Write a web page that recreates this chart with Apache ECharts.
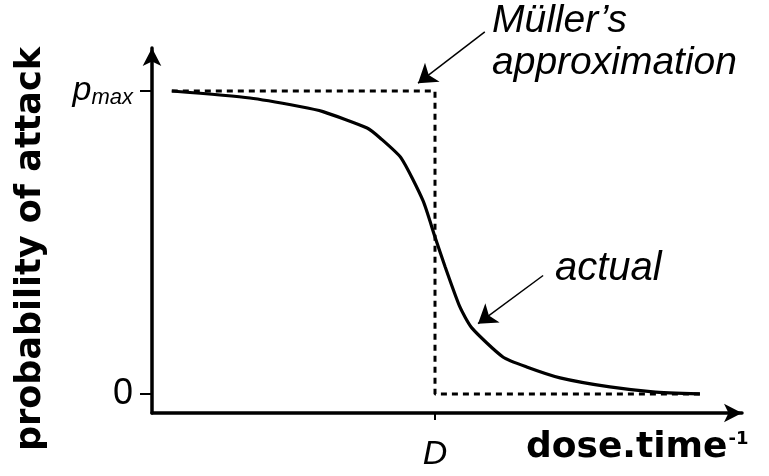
<!DOCTYPE html>
<html>
<head>
<meta charset="utf-8">
<script src="https://cdn.jsdelivr.net/npm/echarts@6/dist/echarts.min.js"></script>
<style>
  html, body { margin: 0; padding: 0; background: #fff; }
  #chart { width: 769px; height: 476px; }
</style>
</head>
<body>
<div id="chart"></div>
<script>
// Actual probability-of-attack curve (dose.time^-1 in arbitrary units, D = 5)
const actualX = [0.35, 1.73, 2.61, 3.02, 3.80, 4.03, 4.40, 4.79, 5.00, 5.18, 5.44, 5.65, 6.20, 6.62, 7.21, 8.09, 8.85, 9.68];
const actualY = [1.0, 0.977, 0.949, 0.932, 0.878, 0.845, 0.779, 0.637, 0.518, 0.419, 0.287, 0.218, 0.122, 0.089, 0.053, 0.023, 0.007, 0.0];

// Müller's step approximation
const mullerX = [0.35, 5, 5, 9.68];
const mullerY = [1, 1, 0, 0];

// Axis ticks
const yTickValues = [0, 1];
const yTickLabels = ['0', '{p|p}{s|max}'];
const xTickValues = [5];
const xTickLabels = ['D'];

// Annotation arrows [from, to]
const mullerArrow = [[5.88, 1.195], [4.70, 1.026]];
const actualArrow = [[6.91, 0.391], [5.76, 0.232]];

const sans = '"Liberation Sans", Arial, Helvetica, sans-serif';
const bold = '"DejaVu Sans", "Liberation Sans", Arial, sans-serif';

const zip = (xs, ys) => xs.map((x, i) => [x, ys[i]]);

const chart = echarts.init(document.getElementById('chart'));

const option = {
  animation: false,
  backgroundColor: '#fff',
  grid: { left: 152, top: 48, right: 27, bottom: 63 },
  xAxis: {
    type: 'value',
    min: 0,
    max: 10.424,
    axisLine: {
      onZero: false,
      symbol: ['none', 'arrow'],
      symbolSize: [14, 18],
      lineStyle: { color: '#000', width: 3.5 },
    },
    axisTick: {
      show: true,
      customValues: xTickValues,
      length: 7,
      lineStyle: { color: '#000', width: 2 },
    },
    axisLabel: {
      customValues: xTickValues,
      formatter: (v) => xTickLabels[xTickValues.indexOf(v)] || '',
      margin: 25,
      color: '#000',
      fontSize: 34,
      fontStyle: 'italic',
      fontFamily: sans,
    },
    splitLine: { show: false },
  },
  yAxis: {
    type: 'value',
    min: -0.063,
    max: 1.142,
    axisLine: {
      show: true,
      onZero: false,
      symbol: ['none', 'arrow'],
      symbolSize: [14, 18],
      lineStyle: { color: '#000', width: 3.5 },
    },
    axisTick: {
      show: true,
      customValues: yTickValues,
      length: 12,
      lineStyle: { color: '#000', width: 2 },
    },
    axisLabel: {
      customValues: yTickValues,
      formatter: (v) => yTickLabels[yTickValues.indexOf(v)] || '',
      margin: 19,
      color: '#000',
      fontSize: 36,
      fontFamily: sans,
      rich: {
        p: { fontSize: 34, fontStyle: 'italic', fontFamily: sans, color: '#000' },
        s: { fontSize: 22, fontStyle: 'italic', fontFamily: sans, color: '#000', verticalAlign: 'bottom', padding: [14, 0, 0, 0] },
      },
    },
    splitLine: { show: false },
  },
  series: [
    {
      name: "Müller's approximation",
      type: 'line',
      data: zip(mullerX, mullerY),
      symbol: 'none',
      lineStyle: { color: '#000', width: 3, type: [6, 5] },
    },
    {
      name: 'actual',
      type: 'line',
      data: zip(actualX, actualY),
      symbol: 'none',
      smooth: 0.2,
      lineStyle: { color: '#000', width: 3.2 },
    },
    {
      type: 'lines',
      coordinateSystem: 'cartesian2d',
      clip: false,
      symbol: ['none', 'arrow'],
      symbolSize: 18,
      lineStyle: { color: '#000', width: 1.5, opacity: 1, curveness: 0 },
      data: [{ coords: mullerArrow }, { coords: actualArrow }],
    },
  ],
  graphic: [
    {
      type: 'text',
      x: 31,
      y: 249,
      rotation: Math.PI / 2,
      style: {
        text: 'probability of attack',
        fontSize: 35,
        fontWeight: 'bold',
        fontFamily: bold,
        fill: '#000',
        align: 'center',
        verticalAlign: 'middle',
      },
    },
    {
      type: 'text',
      x: 526,
      y: 448,
      style: {
        text: '{a|dose.time}{b|-1}',
        fill: '#000',
        align: 'left',
        verticalAlign: 'middle',
        rich: {
          a: { fontSize: 36, fontWeight: 'bold', fontFamily: bold, fill: '#000' },
          b: { fontSize: 18, fontWeight: 'bold', fontFamily: bold, fill: '#000', verticalAlign: 'top', padding: [0, 0, 14, 1] },
        },
      },
    },
    {
      type: 'text',
      x: 492,
      y: 0,
      style: {
        text: 'Müller’s\napproximation',
        fontSize: 39,
        fontStyle: 'italic',
        fontFamily: sans,
        lineHeight: 42,
        fill: '#000',
        align: 'left',
        verticalAlign: 'top',
      },
    },
    {
      type: 'text',
      x: 555,
      y: 269,
      style: {
        text: 'actual',
        fontSize: 40,
        fontStyle: 'italic',
        fontFamily: sans,
        fill: '#000',
        align: 'left',
        verticalAlign: 'middle',
      },
    },
  ],
};

chart.setOption(option);
window.addEventListener('resize', () => chart.resize());
</script>
</body>
</html>
